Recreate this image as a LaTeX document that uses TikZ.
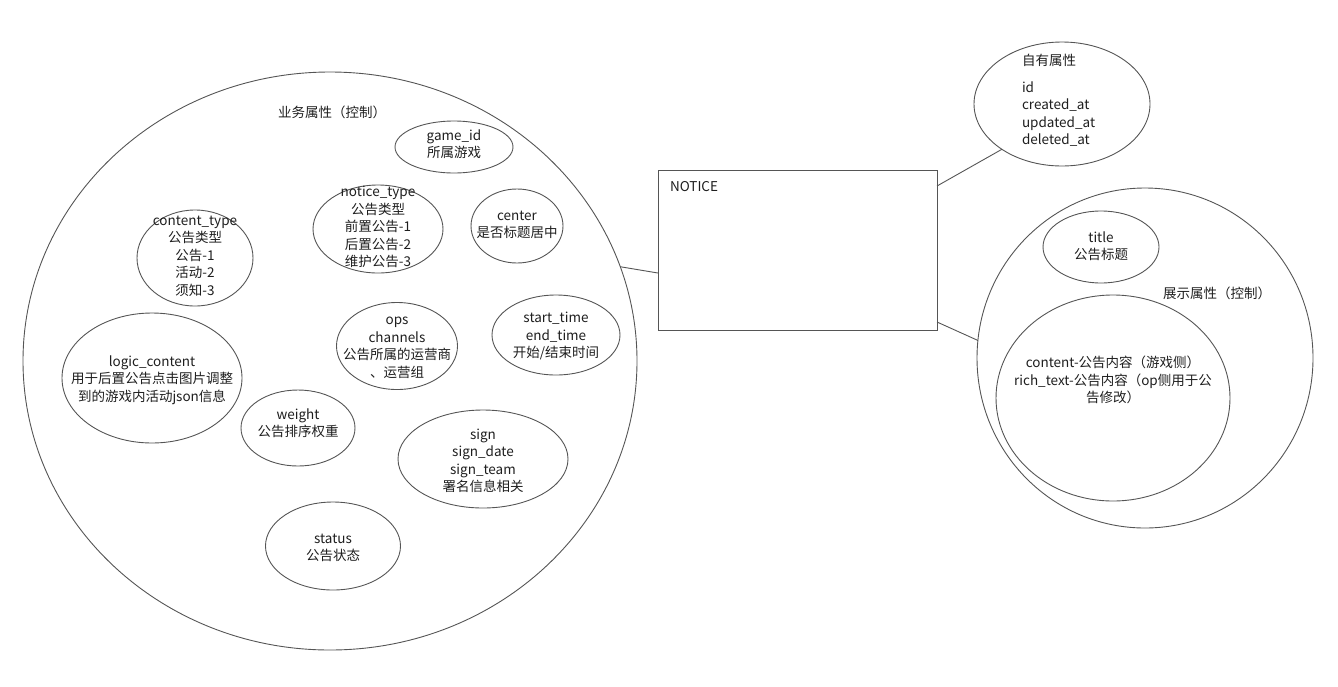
\documentclass[tikz,border=0pt]{standalone}
\usepackage{fontspec}
\setmainfont{Noto Sans CJK SC}
\usetikzlibrary{shapes.geometric}
\definecolor{linegray}{HTML}{555555}
\definecolor{ink}{HTML}{1E1E1E}
\begin{document}
\begin{tikzpicture}[x=1pt,y=-1pt,
  every node/.style={inner sep=0pt,outer sep=0pt},
  bubble/.style={ellipse,draw=linegray,line width=0.9pt},
  box/.style={rectangle,draw=linegray,line width=0.9pt},
  txt/.style={align=center,text=ink,font=\fontsize{13.5}{17.5}\selectfont},
  link/.style={draw=linegray,line width=0.9pt}]
\useasboundingbox (0,0) rectangle (1338,686);

% business attributes group
\node[bubble,minimum width=614,minimum height=578] (biz) at (330,361) {};
\node[txt] (bizcap) at (332,112) {业务属性（控制）};

\node[bubble,minimum width=118,minimum height=52] (gameid) at (454,147) {};
\node[txt] (gameid-t) at (454,144) {game\_id\\所属游戏};

\node[bubble,minimum width=130,minimum height=88] (ntype) at (378,229) {};
\node[txt] (ntype-t) at (378,227) {notice\_type\\公告类型\\前置公告-1\\后置公告-2\\维护公告-3};

\node[bubble,minimum width=92,minimum height=74] (centerflag) at (517,226) {};
\node[txt] (centerflag-t) at (517,225) {center\\是否标题居中};

\node[bubble,minimum width=116,minimum height=96] (ctype) at (195,258) {};
\node[txt] (ctype-t) at (195,256) {content\_type\\公告类型\\公告-1\\活动-2\\须知-3};

\node[bubble,minimum width=180,minimum height=130] (logic) at (152,378) {};
\node[txt] (logic-t) at (152,380) {logic\_content\\用于后置公告点击图片调整\\到的游戏内活动json信息};

\node[bubble,minimum width=121,minimum height=87] (ops) at (397,346) {};
\node[txt] (ops-t) at (397,348) {ops\\channels\\公告所属的运营商\\、运营组};

\node[bubble,minimum width=128,minimum height=80] (times) at (556,335) {};
\node[txt] (times-t) at (556,336) {start\_time\\end\_time\\开始/结束时间};

\node[bubble,minimum width=114,minimum height=76] (weight) at (298,428) {};
\node[txt] (weight-t) at (298,423) {weight\\公告排序权重};

\node[bubble,minimum width=170,minimum height=98] (sign) at (483,459) {};
\node[txt] (sign-t) at (483,461) {sign\\sign\_date\\sign\_team\\署名信息相关};

\node[bubble,minimum width=135,minimum height=88] (status) at (333,546) {};
\node[txt] (status-t) at (333,548) {status\\公告状态};

% the entity itself
\node[box,minimum width=279,minimum height=160] (notice) at (797.5,250) {};
\node[txt,anchor=west] (notice-t) at (670,187) {NOTICE};

% own attributes
\node[bubble,minimum width=176,minimum height=124] (own) at (1062,104) {};
\node[txt,anchor=west] (own-cap) at (1022,60) {自有属性};
\node[txt,align=left,anchor=west] (own-t) at (1022,114) {id\\created\_at\\updated\_at\\deleted\_at};

% display attributes group
\node[bubble,minimum width=336,minimum height=340] (disp) at (1145,358) {};
\node[txt] (dispcap) at (1217,293) {展示属性（控制）};
\node[bubble,minimum width=116,minimum height=72] (titlebub) at (1101,247) {};
\node[txt] (titlebub-t) at (1101,246) {title\\公告标题};
\node[bubble,minimum width=234,minimum height=206] (contentbub) at (1113,398) {};
\node[txt] (contentbub-t) at (1113,380) {content-公告内容（游戏侧）\\rich\_text-公告内容（op侧用于公\\告修改）};

% connectors
\draw[link] (biz.18) -- ([yshift=-23pt]notice.west);
\draw[link] ([yshift=-16pt]notice.north east) -- (own.217);
\draw[link] ([yshift=8pt]notice.south east) -- (disp.174);
\end{tikzpicture}
\end{document}
